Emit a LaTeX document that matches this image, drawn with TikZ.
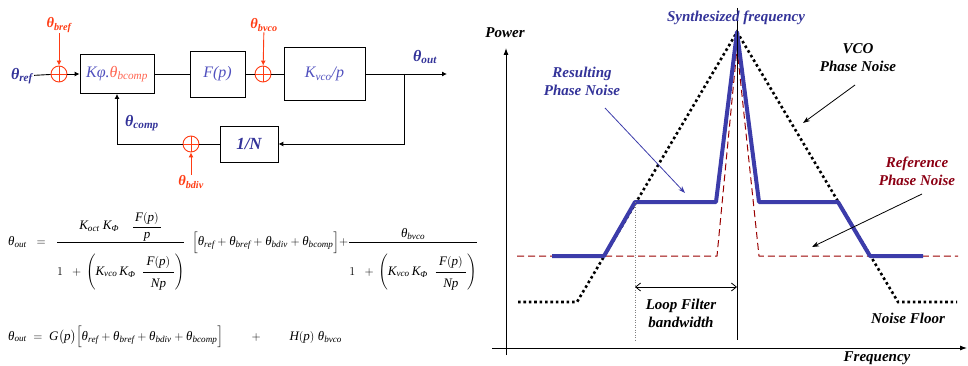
\documentclass[tikz,border=0pt]{standalone}
\usepackage{fontspec}
\setmainfont{Liberation Serif}
\usepackage{amsmath}
\usetikzlibrary{arrows.meta}
\definecolor{kblue}{RGB}{51,51,153}
\definecolor{boxblue}{RGB}{80,80,190}
\definecolor{bred}{RGB}{255,60,20}
\definecolor{salmon}{RGB}{255,100,80}
\definecolor{lblue}{RGB}{60,60,170}
\definecolor{dred}{RGB}{153,0,0}
\definecolor{tred}{RGB}{140,0,20}
\newcommand\tht{\text{\itshape θ}}
\newcommand\ts[1]{\tht_{\mathit{#1}}}
\newcommand\PhI{\text{\itshape Φ}}
\newcommand\bth[1]{$\text{\bfseries\itshape θ}_{\text{\bfseries\itshape #1}}$}
\newcommand\innerfr[2]{\dfrac{\;#1\rule[-5pt]{0pt}{0pt}\;}{\rule{0pt}{14pt}#2}}
\newcommand\denomA{\rule{0pt}{31pt}1\;\;+\,\left(\mathit{K}_{\mathit{vco}}\,\mathit{K}_{\PhI}\;\;\innerfr{\mathit{F}(\mathit{p})}{\mathit{Np}}\right)}
\newcommand\sumterms{\ts{ref}+\ts{bref}+\ts{bdiv}+\ts{bcomp}}
\begin{document}
\begin{tikzpicture}[x=1pt,y=-1pt,
  blk/.style={draw, line width=0.8pt, inner sep=0pt, text=boxblue, font=\fontsize{16}{18}\selectfont\itshape},
  sumc/.style={circle, draw=bred, line width=0.9pt, minimum size=16pt, inner sep=0pt,
    path picture={\draw[bred, line width=0.9pt] (path picture bounding box.north) -- (path picture bounding box.south) (path picture bounding box.west) -- (path picture bounding box.east);}},
  lblb/.style={text=kblue, font=\fontsize{16}{18}\selectfont, inner sep=1pt},
  lblr/.style={text=bred, font=\fontsize{14.5}{16}\selectfont, inner sep=1pt},
  wire/.style={line width=0.9pt},
  arr/.style={line width=0.9pt, -{Latex[length=5pt,width=5pt]}},
  rarr/.style={line width=0.9pt, bred, -{Latex[length=5pt,width=5pt]}},
  eq/.style={inner sep=0pt, font=\fontsize{13}{15}\selectfont},
  glbl/.style={font=\fontsize{15}{18}\selectfont\bfseries\itshape, align=center, inner sep=0pt},
  vcoline/.style={line width=2.6pt, dash pattern=on 2.6pt off 2.8pt},
  refline/.style={dred, line width=1pt, dash pattern=on 7pt off 4pt},
  resline/.style={lblue, line width=4pt, line join=round},
  garr/.style={line width=0.8pt, -{Stealth[length=7pt,width=5pt]}}
]
\useasboundingbox (0,0) rectangle (968,366);
% ---------------- block diagram ----------------
\node[lblb] (tref) at (22,76) {\bth{ref}};
\node[sumc] (s1) at (59,74) {};
\node[blk, minimum width=74pt, minimum height=39pt] (kphi) at (117,74) {Kφ.\textcolor{salmon}{$\tht_{\mathit{bcomp}}$}};
\node[blk, minimum width=55pt, minimum height=46pt] (fp) at (217.5,74) {F(p)};
\node[sumc] (s2) at (263,74) {};
\node[blk, minimum width=81pt, minimum height=53pt] (kvco) at (324.5,74) {K\textsubscript{vco}/p};
\coordinate (out) at (447,74);
\coordinate (br) at (404,74);
\node[blk, minimum width=58pt, minimum height=36pt, text=kblue, font=\fontsize{17}{18}\selectfont\bfseries\itshape] (ndiv) at (249,144) {1/N};
\node[sumc] (s3) at (191,144) {};
\node[lblr] (bref) at (59,25) {\bth{bref}};
\node[lblr] (bvco) at (264,25) {\bth{bvco}};
\node[lblr] (bdiv) at (191,182) {\bth{bdiv}};
\node[lblb] (tout) at (425,57) {\bth{out}};
\node[lblb] (tcomp) at (142,123) {\bth{comp}};
\draw[wire] (tref) -- (s1);
\draw[arr] (s1) -- (kphi);
\draw[wire] (kphi) -- (fp);
\draw[wire] (fp) -- (s2);
\draw[wire] (s2) -- (kvco);
\draw[arr] (kvco) -- (out);
\draw[arr] (br) |- (ndiv);
\draw[wire] (ndiv) -- (s3);
\draw[arr] (s3) -| (kphi);
\draw[rarr] (bref) -- (s1);
\draw[rarr] (bvco) -- (s2);
\draw[rarr] (bdiv) -- (s3);
% ---------------- equations ----------------
\node[eq, anchor=base west] (eq1) at (8,245.5) {$\displaystyle \ts{out}\;\;=\;\;\frac{\mathit{K}_{\mathit{oct}}\;\mathit{K}_{\PhI}\quad\dfrac{\,\mathit{F}(\mathit{p})\,}{\mathit{p}}}{\denomA}\;\;\Bigl[\sumterms\Bigr]{+}\frac{\ts{bvco}}{\denomA}$};
\node[eq, anchor=west] (eq2) at (8,337) {$\displaystyle \ts{out}\;=\;\mathit{G}\bigl(\mathit{p}\bigr)\Bigl[\sumterms\Bigr]\qquad+\qquad\mathit{H}(\mathit{p})\;\ts{bvco}$};
% ---------------- spectrum plot ----------------
\coordinate (yb) at (506,355);
\coordinate (yt) at (506,48);
\coordinate (xl) at (492,348);
\coordinate (xr) at (967,348);
\draw[line width=0.9pt, -{Latex[length=7pt,width=5pt]}] (yb) -- (yt);
\draw[line width=0.9pt, -{Latex[length=7pt,width=5pt]}] (xl) -- (xr);
\node[glbl] (power) at (505,33) {Power};
\node[glbl] (freq) at (877,358) {Frequency};
% reference phase noise
\draw[refline] (517,256) -- (717,256) -- (737,48) -- (759,256) -- (958,256);
% vco phase noise
\draw[vcoline] (518,302) -- (577,302) -- (737,32) -- (898,302) -- (957,302);
% resulting
\draw[resline] (552,256) -- (604,256) -- (635,202) -- (716,202) -- (737,32) -- (759,202) -- (838,202) -- (870,256) -- (923,256);
% center & bandwidth
\coordinate (ct) at (737,8);
\coordinate (cb) at (737,340);
\draw[line width=0.8pt] (ct) -- (cb);
\coordinate (dt) at (635,202);
\coordinate (db) at (635,340);
\draw[line width=0.5pt, dotted, gray] (dt) -- (db);
\coordinate (bwl) at (635,287);
\coordinate (bwr) at (737,287);
\draw[line width=0.8pt, {Straight Barb[length=5pt,width=8pt]}-{Straight Barb[length=5pt,width=8pt]}] (bwl) -- (bwr);
\node[glbl] (lfb) at (681,313) {Loop Filter\\bandwidth};
\node[glbl, text=kblue] (synth) at (736,18) {Synthesized frequency};
\node[glbl, text=kblue] (resl) at (582,81) {Resulting\\Phase Noise};
\node[glbl] (vcol) at (858,58) {VCO\\Phase Noise};
\node[glbl, text=tred] (refl) at (917,171) {Reference\\Phase Noise};
\node[glbl] (nfl) at (908,318) {Noise Floor};
\coordinate (ra1) at (605,108);
\coordinate (ra2) at (685,193);
\draw[garr, lblue] (ra1) -- (ra2);
\coordinate (va1) at (855,85);
\coordinate (va2) at (803,123);
\draw[garr] (va1) -- (va2);
\coordinate (fa1) at (922,194);
\coordinate (fa2) at (812,247);
\draw[garr] (fa1) -- (fa2);
\end{tikzpicture}
\end{document}
